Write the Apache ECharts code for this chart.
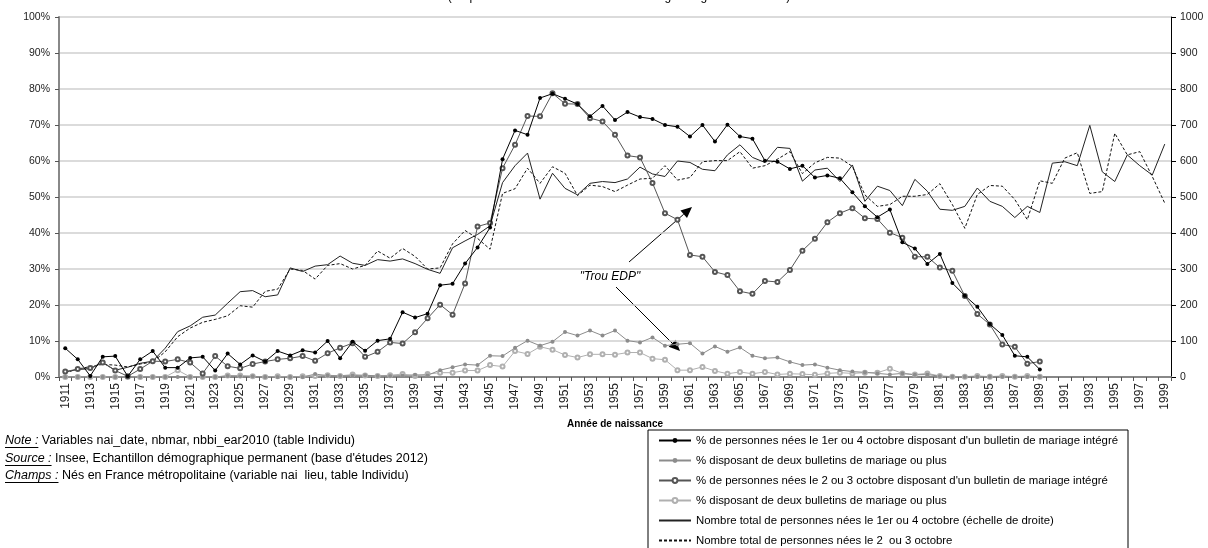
<!DOCTYPE html>
<html><head><meta charset="utf-8">
<script src="https://cdn.jsdelivr.net/npm/echarts@6/dist/echarts.min.js"></script>
<style>html,body{margin:0;padding:0;background:#fff}#c{width:1208px;height:548px}</style>
</head><body><div id="c"></div>
<script>
// ---------- DATA ----------
const years = ['1911','1912','1913','1914','1915','1916','1917','1918','1919','1920',
'1921','1922','1923','1924','1925','1926','1927','1928','1929','1930',
'1931','1932','1933','1934','1935','1936','1937','1938','1939','1940',
'1941','1942','1943','1944','1945','1946','1947','1948','1949','1950',
'1951','1952','1953','1954','1955','1956','1957','1958','1959','1960',
'1961','1962','1963','1964','1965','1966','1967','1968','1969','1970',
'1971','1972','1973','1974','1975','1976','1977','1978','1979','1980',
'1981','1982','1983','1984','1985','1986','1987','1988','1989','1990',
'1991','1992','1993','1994','1995','1996','1997','1998','1999'];

// % nés le 1er ou 4 octobre disposant d'un bulletin de mariage intégré (1911-1989)
const pctBirth14 = [8.0,4.9,0.3,5.6,5.8,0.2,4.9,7.2,2.6,2.6,
5.3,5.6,1.8,6.5,3.5,6.0,4.3,7.2,6.0,7.4,
6.8,10.0,5.2,9.8,7.3,10.1,10.6,18.0,16.5,17.6,
25.5,25.9,31.5,36.0,41.5,60.5,68.5,67.3,77.5,78.7,
77.3,75.8,72.4,75.3,71.4,73.6,72.2,71.7,70.0,69.5,
66.8,70.0,65.4,70.1,66.8,66.2,60.1,59.8,57.8,58.7,
55.4,56.0,55.2,51.3,47.4,44.4,46.5,37.4,35.7,31.4,
34.2,26.1,22.6,19.5,14.7,11.7,5.9,5.6,2.1];

// % disposant de deux bulletins ou plus (1er/4 octobre)
const pctTwoPlus14 = [0,0,0,0,0,0,0,0,0,0,
0,0,0,0.3,0.2,0.2,0,0,0,0,
0.8,0.4,0.3,0.4,0.5,0.3,0.3,0.4,0.6,0.5,
1.9,2.7,3.5,3.3,5.9,5.8,8.1,10.1,8.7,9.8,
12.5,11.5,12.9,11.5,12.9,10.1,9.6,11.0,8.7,9.1,
9.4,6.5,8.5,7.0,8.2,5.9,5.2,5.4,4.2,3.3,
3.5,2.6,1.9,1.5,1.3,1.0,0.7,1.0,0.6,0.7,
0.2,0.1,0.1,0.1,0.1,0.1,0.1,0.1,0.1];

// % nés le 2 ou 3 octobre disposant d'un bulletin de mariage intégré
const pctBirth23 = [1.5,2.2,2.5,4.0,1.8,0.2,2.2,4.4,4.3,4.9,
4.0,1.0,5.8,3.0,2.4,3.6,4.3,4.9,5.2,5.8,
4.5,6.6,8.1,9.4,5.6,7.0,9.6,9.3,12.4,16.3,
20.1,17.3,26.0,41.8,42.8,58.0,64.5,72.5,72.4,78.8,
75.9,75.8,71.9,71.0,67.3,61.5,61.0,53.9,45.5,43.7,
33.9,33.4,29.2,28.3,23.8,23.1,26.7,26.4,29.7,35.1,
38.4,43.0,45.5,46.9,44.1,43.9,40.1,38.7,33.4,33.4,
30.4,29.5,22.5,17.5,14.6,9.0,8.4,3.7,4.3];

// % disposant de deux bulletins ou plus (2/3 octobre)
const pctTwoPlus23 = [0,0,0,0,0,0,0,0,0,1.9,
0,0,0,0.4,0.4,0.2,0,0.2,0,0.2,
0.3,0.5,0.3,0.7,0.4,0.3,0.5,0.8,0.3,0.8,
1.2,1.2,1.8,1.8,3.3,2.9,7.2,6.4,8.4,7.6,
6.1,5.4,6.3,6.3,6.2,6.8,6.8,5.1,4.8,1.9,
1.9,2.8,1.7,0.9,1.4,0.9,1.4,0.7,0.9,0.8,
0.6,1.0,1.2,1.0,1.2,1.2,2.3,1.0,0.7,1.0,
0.3,0.1,0.1,0.3,0.1,0.3,0.1,0.3,0.1];

// Nombre total de personnes nées le 1er ou 4 octobre (échelle de droite)
const total14 = [14,21,23,40,19,27,38,44,80,126,
142,166,172,205,237,240,223,228,303,293,
308,312,336,316,310,326,322,328,315,299,
288,359,378,396,420,540,587,622,494,566,
524,506,538,543,540,550,583,564,557,600,
596,577,573,617,645,610,596,638,635,544,
575,580,543,589,488,530,518,476,549,516,
466,463,474,525,488,474,443,474,457,594,
598,587,699,570,543,617,587,561,647];

// Nombre total de personnes nées le 2 ou 3 octobre
const total23 = [12,22,29,35,33,28,36,42,70,112,
136,152,160,170,198,194,238,244,300,296,
272,310,315,300,310,350,330,357,335,300,
303,370,407,385,355,510,523,580,538,584,
566,504,533,529,515,533,550,552,587,547,
554,598,601,601,626,580,587,605,626,565,
595,610,608,585,506,474,479,502,502,507,
537,479,413,507,532,530,493,437,545,538,
608,623,510,515,677,617,626,557,483];

const leftTicks = {min:0, max:100, interval:10};
const rightTicks = {min:0, max:1000, interval:100};

const seriesNames = [
  "% de personnes nées le 1er ou 4 octobre disposant d'un bulletin de mariage intégré",
  "% disposant de deux bulletins de mariage ou plus",
  "% de personnes nées le 2 ou 3 octobre disposant d'un bulletin de mariage intégré",
  "% disposant de deux bulletins de mariage ou plus ",
  "Nombre total de personnes nées le 1er ou 4 octobre (échelle de droite)",
  "Nombre total de personnes nées le 2  ou 3 octobre"
];
const titleText = "(D'après les bulletins d'état civil de mariage intégrés dans l'EDP)";
const xAxisTitle = "Année de naissance";
const notes = [
  ["Note :", " Variables nai_date, nbmar, nbbi_ear2010 (table Individu)"],
  ["Source :", " Insee, Echantillon démographique permanent (base d'études 2012)"],
  ["Champs :", " Nés en France métropolitaine (variable nai  lieu, table Individu)"]
];
const annotationText = '"Trou EDP"';

// ---------- CHART ----------
const FONT = "'Liberation Sans', Arial, sans-serif";
const chart = echarts.init(document.getElementById('c'), null, {renderer:'canvas'});

const ctx = document.createElement('canvas').getContext('2d');
function tw(t, f){ ctx.font = f; return ctx.measureText(t).width; }

const graphics = [];
// partial title at the top (cut off)
graphics.push({type:'text', x:619, y:-3, style:{text:titleText, font:"12px "+FONT, fill:'#000', align:'center', verticalAlign:'middle'}});
// notes
const noteY = [441, 459, 476];
const nf = 12.5;
notes.forEach((n,i)=>{
  const f1 = "italic " + nf + "px " + FONT;
  const w1 = tw(n[0], f1);
  graphics.push({type:'text', x:5, y:noteY[i], style:{text:n[0], font:f1, fill:'#000', verticalAlign:'middle'}});
  graphics.push({type:'line', shape:{x1:5, y1:noteY[i]+6.5, x2:5+w1, y2:noteY[i]+6.5}, style:{stroke:'#000', lineWidth:1}});
  graphics.push({type:'text', x:5+w1, y:noteY[i], style:{text:n[1], font:nf+"px "+FONT, fill:'#000', verticalAlign:'middle'}});
});
// annotation
graphics.push({type:'text', x:610, y:277, style:{text:annotationText, font:"italic 12px "+FONT, fill:'#000', align:'center', verticalAlign:'middle'}});
function arrow(x1,y1,x2,y2){
  const dx=x2-x1, dy=y2-y1, L=Math.hypot(dx,dy), ux=dx/L, uy=dy/L;
  const hl=11, hw=5;
  const bx=x2-ux*hl, by=y2-uy*hl;
  graphics.push({type:'line', shape:{x1,y1,x2:bx,y2:by}, style:{stroke:'#000', lineWidth:1}});
  graphics.push({type:'polygon', shape:{points:[[x2,y2],[bx-uy*hw,by+ux*hw],[bx+uy*hw,by-ux*hw]]}, style:{fill:'#000'}});
}
arrow(629,262,692,207);
arrow(616,287,680,351);

const axisFont = {fontSize:10.5, color:'#222', fontFamily:FONT};

const legendData = seriesNames.map((n,i)=> i>=4 ? {name:n, itemStyle:{opacity:0}} : {name:n});

chart.setOption({
  animation:false,
  backgroundColor:'#fff',
  textStyle:{fontFamily:FONT},
  grid:{left:59, right:37, top:17, bottom:171, containLabel:false},
  legend:{
    orient:'vertical', left:648, top:430, height:150,
    itemWidth:32, itemHeight:6, itemGap:9,
    padding:[5,10,6,10],
    borderColor:'#000', borderWidth:1, backgroundColor:'#fff',
    textStyle:{fontSize:11.4, color:'#000', fontFamily:FONT},
    data: legendData
  },
  xAxis:{
    type:'category', data:years, boundaryGap:true,
    axisLabel:Object.assign({}, axisFont, {interval:1, rotate:90, margin:6, fontSize:12}),
    axisTick:{show:true, interval:0, length:4, lineStyle:{color:'#555'}},
    axisLine:{lineStyle:{color:'#888', width:2}},
    splitLine:{show:false},
    name:xAxisTitle, nameLocation:'middle', nameGap:42,
    nameTextStyle:{fontWeight:'bold', fontSize:10, color:'#000', fontFamily:FONT}
  },
  yAxis:[
    {type:'value', position:'left', min:leftTicks.min, max:leftTicks.max, interval:leftTicks.interval,
     axisLabel:Object.assign({formatter:'{value}%', margin:9}, axisFont),
     axisLine:{show:true, lineStyle:{color:'#888', width:2}},
     axisTick:{show:true, length:4, lineStyle:{color:'#555'}},
     splitLine:{show:true, lineStyle:{color:'#cfcfcf', width:1.5}}},
    {type:'value', position:'right', min:rightTicks.min, max:rightTicks.max, interval:rightTicks.interval,
     axisLabel:Object.assign({margin:9, formatter:(v)=>String(v)}, axisFont),
     axisLine:{show:true, lineStyle:{color:'#000', width:1}},
     axisTick:{show:true, length:5, lineStyle:{color:'#000'}},
     splitLine:{show:false}}
  ],
  series:[
    {name:seriesNames[4], type:'line', yAxisIndex:1, data:total14, symbol:'none',
     lineStyle:{color:'#222', width:1}, itemStyle:{color:'#222'}, z:2},
    {name:seriesNames[5], type:'line', yAxisIndex:1, data:total23, symbol:'none',
     lineStyle:{color:'#111', width:1, type:[3,2]}, itemStyle:{color:'#111'}, z:2},
    {name:seriesNames[3], type:'line', data:pctTwoPlus23, symbol:'emptyCircle', symbolSize:4, showAllSymbol:true,
     lineStyle:{color:'#b0b0b0', width:1}, itemStyle:{color:'#b0b0b0', borderWidth:1}, z:3},
    {name:seriesNames[1], type:'line', data:pctTwoPlus14, symbol:'circle', symbolSize:4, showAllSymbol:true,
     lineStyle:{color:'#8c8c8c', width:1}, itemStyle:{color:'#8c8c8c'}, z:3},
    {name:seriesNames[2], type:'line', data:pctBirth23, symbol:'emptyCircle', symbolSize:4, showAllSymbol:true,
     lineStyle:{color:'#555', width:1}, itemStyle:{color:'#555', borderWidth:1}, z:4},
    {name:seriesNames[0], type:'line', data:pctBirth14, symbol:'circle', symbolSize:4, showAllSymbol:true,
     lineStyle:{color:'#000', width:1}, itemStyle:{color:'#000'}, z:5}
  ],
  graphic: graphics
});
</script>
</body></html>
